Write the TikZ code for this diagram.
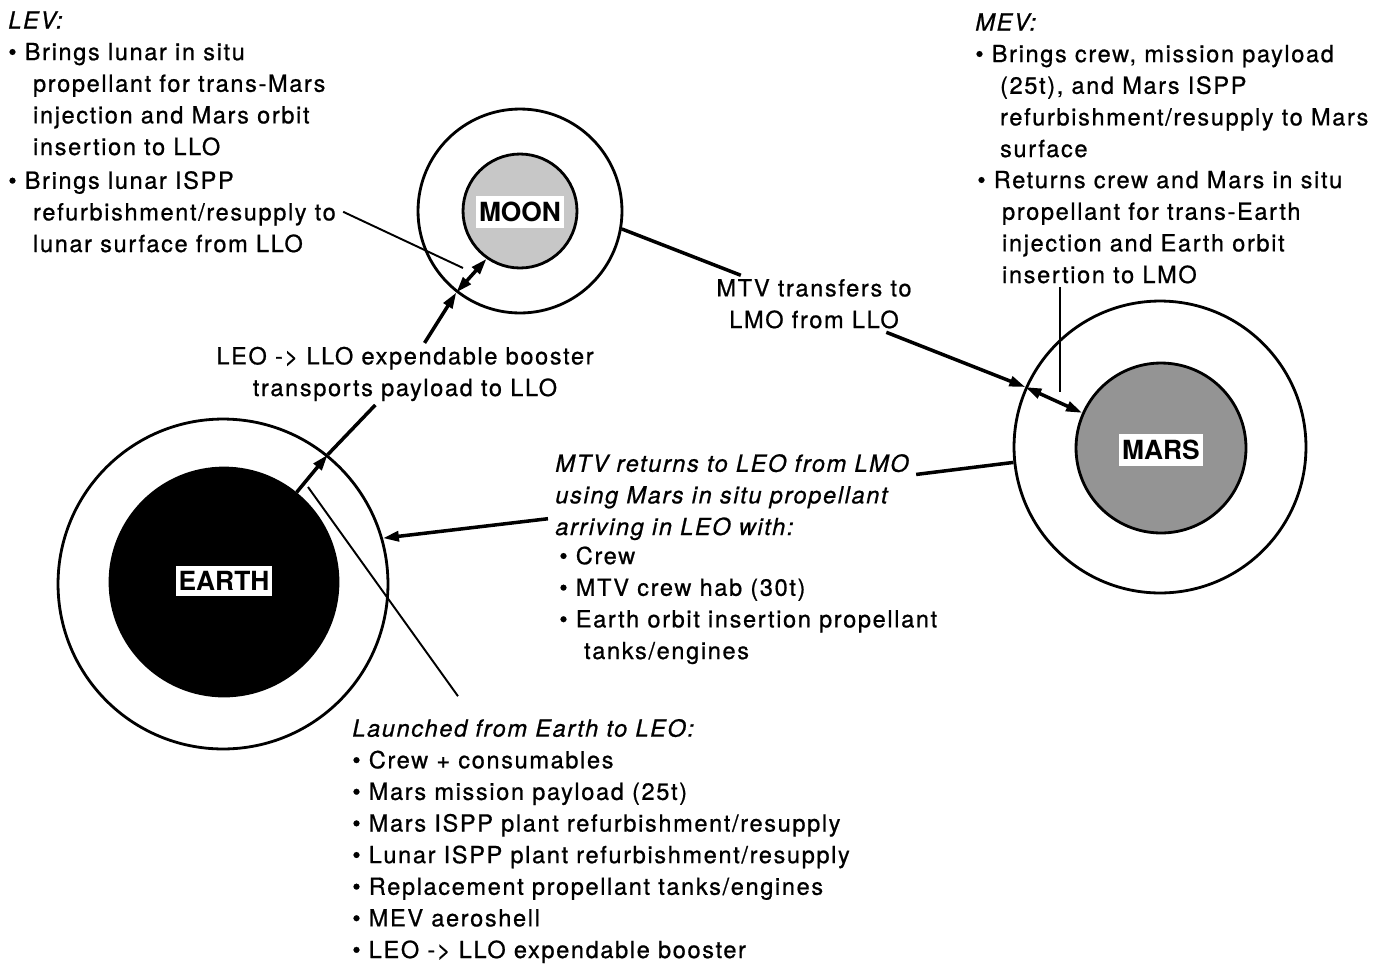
\documentclass[tikz,border=0pt]{standalone}
\usepackage{fontspec}
\setmainfont{TeX Gyre Heros}
\newfontfamily\notefont{TeX Gyre Heros}[LetterSpace=7, FakeBold=0.8]
\usetikzlibrary{arrows.meta, positioning, calc}
\newcommand{\notesize}{\notefont\fontsize{13.4}{18}\selectfont}
\newcommand{\ind}{\hspace*{1.05em}}

\begin{document}
\begin{tikzpicture}[x=0.02cm, y=-0.02cm,
    orbit/.style={draw, circle, line width=1.6pt, inner sep=0pt},
    nametag/.style={fill=white, inner xsep=1.6pt, inner ysep=3.2pt, font=\fontsize{15}{18}\selectfont\bfseries},
    note/.style={align=left, anchor=base west, inner xsep=4pt, inner ysep=2pt, font=\notesize},
    slantnote/.style={note, font=\notesize\itshape},
    caption/.style={align=center, anchor=base, inner xsep=4pt, inner ysep=2pt, font=\notesize},
    conn/.style={line width=2pt},
    pointer/.style={line width=1.1pt},
    tip/.style={-{Triangle[length=3.2mm,width=2mm]}},
    twotips/.style={{Triangle[length=3.2mm,width=2mm]}-{Triangle[length=3.2mm,width=2mm]}}]

\useasboundingbox (0,0) rectangle (1392,964);

% planets and their orbits
\node[orbit, minimum size=6.6cm] (earthorbit) at (223,584) {};
\node[orbit, fill=black, minimum size=4.56cm] (earth) at (224,582) {};
\node[nametag] (earthtag) at (224,581) {EARTH};

\node[orbit, minimum size=4.08cm] (moonorbit) at (520,211) {};
\node[orbit, fill=black!22, minimum size=2.28cm] (moon) at (520,211) {};
\node[nametag] (moontag) at (520,212) {MOON};

\node[orbit, minimum size=5.84cm] (marsorbit) at (1160,447) {};
\node[orbit, fill=black!42, minimum size=3.4cm] (mars) at (1161,448) {};
\node[nametag] (marstag) at (1161,450) {MARS};

% text blocks (placed by the baseline of their last line)
\node[note] (lev) at (1,155) {\textit{LEV:}\\
  • Brings lunar in situ\\
  \ind propellant for trans-Mars\\
  \ind injection and Mars orbit\\
  \ind insertion to LLO};
\node[note] (levisp) at (1,252) {• Brings lunar ISPP\\
  \ind refurbishment/resupply to\\
  \ind lunar surface from LLO};

\node[note] (mev) at (968,157) {\textit{MEV:}\\
  • Brings crew, mission payload\\
  \ind (25t), and Mars ISPP\\
  \ind refurbishment/resupply to Mars\\
  \ind surface};
\node[note] (mevret) at (970,283) {• Returns crew and Mars in situ\\
  \ind propellant for trans-Earth\\
  \ind injection and Earth orbit\\
  \ind insertion to LMO};

\node[caption] (transfer) at (814,328) {MTV transfers to\\ LMO from LLO};
\node[caption] (booster) at (405,396) {LEO -> LLO expendable booster\\ transports payload to LLO};

\node[slantnote] (mtvret) at (548,535) {MTV returns to LEO from LMO\\
  using Mars in situ propellant\\
  arriving in LEO with:};
\node[note] (mtvcargo) at (552,659) {• Crew\\
  • MTV crew hab (30t)\\
  • Earth orbit insertion propellant\\
  \ind tanks/engines};

\node[note] (launch) at (345,958) {\textit{Launched from Earth to LEO:}\\
  • Crew + consumables\\
  • Mars mission payload (25t)\\
  • Mars ISPP plant refurbishment/resupply\\
  • Lunar ISPP plant refurbishment/resupply\\
  • Replacement propellant tanks/engines\\
  • MEV aeroshell\\
  • LEO -> LLO expendable booster};

% free ends of the pointer lines
\coordinate (levtip) at (463,268);
\coordinate (mevtip) at (1060,392);
\coordinate (launchtip) at (308,487);

% Earth -> Moon
\draw[conn, tip] (earth.51) -- (earthorbit.51);
\draw[conn] (earthorbit.51) -- (booster);
\draw[conn, tip] (booster) -- (moonorbit.232);
\draw[conn, twotips] (moonorbit.232) -- (moon.235);

% Moon -> Mars
\draw[conn] (moonorbit.-10) -- (transfer);
\draw[conn, tip] (transfer) -- (marsorbit.156);
\draw[conn, twotips] (marsorbit.156) -- (mars.156);

% Mars -> Earth
\draw[conn] (marsorbit.186) -- (mtvret);
\draw[conn, tip] (mtvret) -- (earthorbit.16);

% pointers
\draw[pointer] (levisp.east) -- (levtip);
\draw[pointer] (mevtip |- mevret.south) -- (mevtip);
\draw[pointer] ([xshift=2.26cm, yshift=0.38cm]launch.north west) -- (launchtip);
\end{tikzpicture}
\end{document}
